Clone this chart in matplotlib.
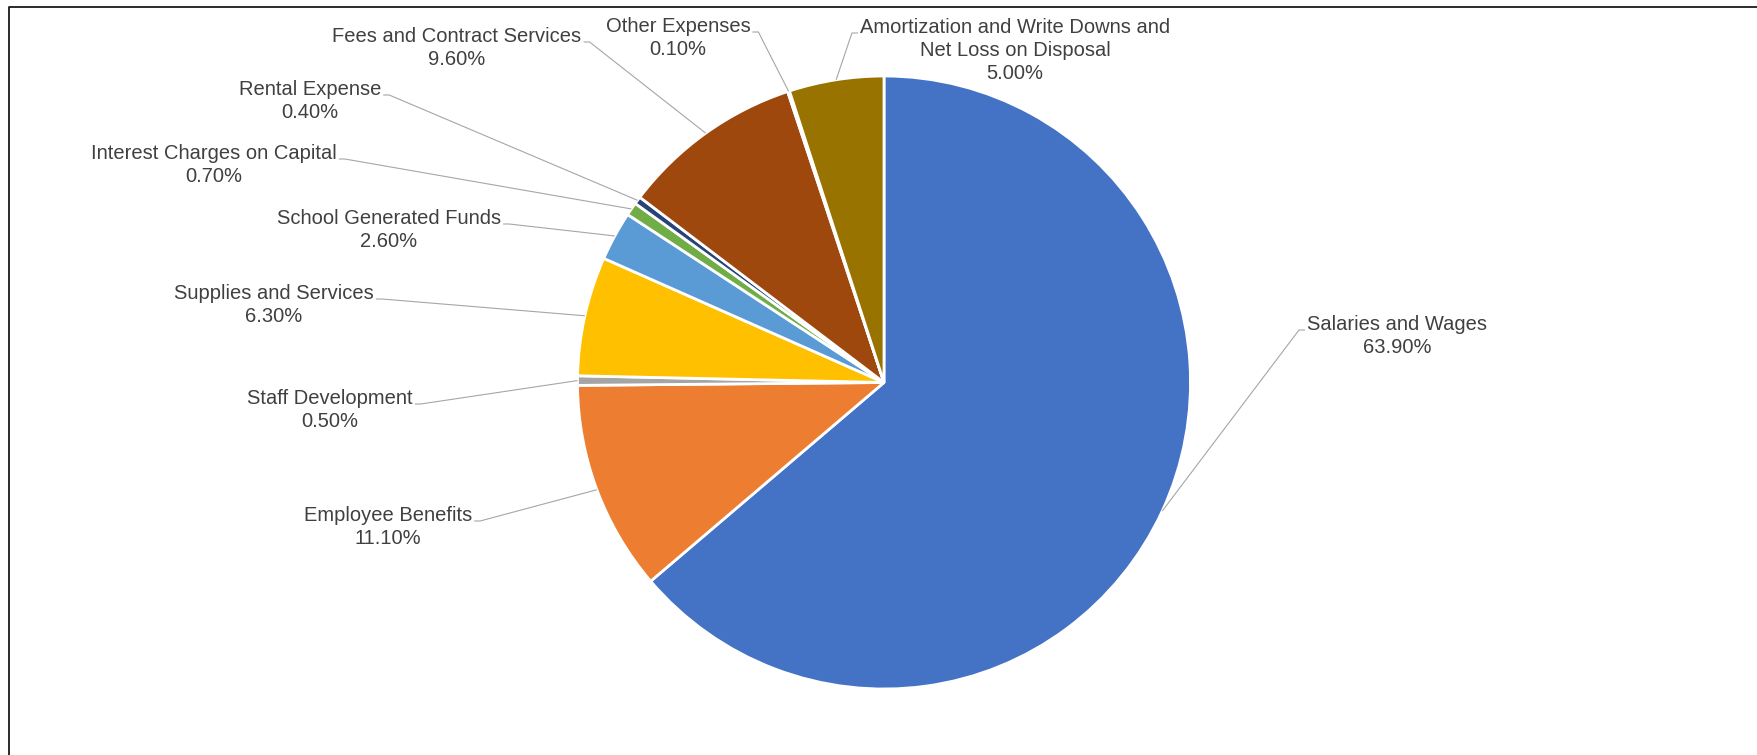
import numpy as np
import matplotlib.pyplot as plt

W, H = 1758, 755

categories = ["Salaries and Wages", "Employee Benefits", "Staff Development",
              "Supplies and Services", "School Generated Funds",
              "Interest Charges on Capital", "Rental Expense",
              "Fees and Contract Services", "Other Expenses",
              "Amortization and Write Downs and\nNet Loss on Disposal"]
shares = [63.9, 11.1, 0.5, 6.3, 2.6, 0.7, 0.4, 9.6, 0.1, 5.0]
colors = ["#4472C4", "#ED7D31", "#A5A5A5", "#FFC000", "#5B9BD5",
          "#70AD47", "#264478", "#9E480E", "#636363", "#997300"]

# label placement in pixels: centre x, first baseline y (from top)
label_pos = [(1397, 330), (388, 521), (330, 404), (274, 299), (389, 224),
             (214, 159), (310, 95), (457, 42), (678, 32), (1015, 33)]

PIE_CENTER = (884, H - 382.5)
PIE_RADIUS = 306.5
LINE_STEP = 23
TEXT_COLOR = "#404040"
LEADER_COLOR = "#A6A6A6"

plt.rcParams['font.family'] = ['Liberation Sans', 'DejaVu Sans']

fig = plt.figure(figsize=(W / 100, H / 100), dpi=100)
ax = fig.add_axes([0, 0, 1, 1])
wedges, _ = ax.pie(shares, colors=colors, startangle=90, counterclock=False,
                   center=PIE_CENTER, radius=PIE_RADIUS,
                   wedgeprops=dict(edgecolor='white', linewidth=2))
ax.set_xlim(0, W)
ax.set_ylim(0, H)
ax.set_aspect('equal')
ax.axis('off')

# chart area border (only top and left edges are visible in the crop)
ax.plot([9.5, 9.5, W + 5], [-5, H - 6.5, H - 6.5], color='#1a1a1a',
        lw=1.3, clip_on=False)

renderer = fig.canvas.get_renderer()
for wedge, name, value, (cx, by) in zip(wedges, categories, shares, label_pos):
    lines = name.split("\n") + [f"{value:.2f}%"]
    texts = []
    for i, line in enumerate(lines):
        t = ax.text(cx, H - by - i * LINE_STEP, line, ha='center',
                    va='baseline', fontsize=14.5, color=TEXT_COLOR)
        texts.append(t)

    # leader line from first text line to the wedge's outer edge
    mid = np.deg2rad((wedge.theta1 + wedge.theta2) / 2)
    px = PIE_CENTER[0] + PIE_RADIUS * np.cos(mid)
    py = PIE_CENTER[1] + PIE_RADIUS * np.sin(mid)
    bb = texts[0].get_window_extent(renderer)
    y0 = H - by
    if cx < px:
        x0 = bb.x1 + 2
        x1 = x0 + 6
    else:
        x0 = bb.x0 - 2
        x1 = x0 - 6
    ax.plot([x0, x1, px], [y0, y0, py], color=LEADER_COLOR, lw=0.8,
            solid_capstyle='butt')

fig.savefig('out.png', dpi=100)
